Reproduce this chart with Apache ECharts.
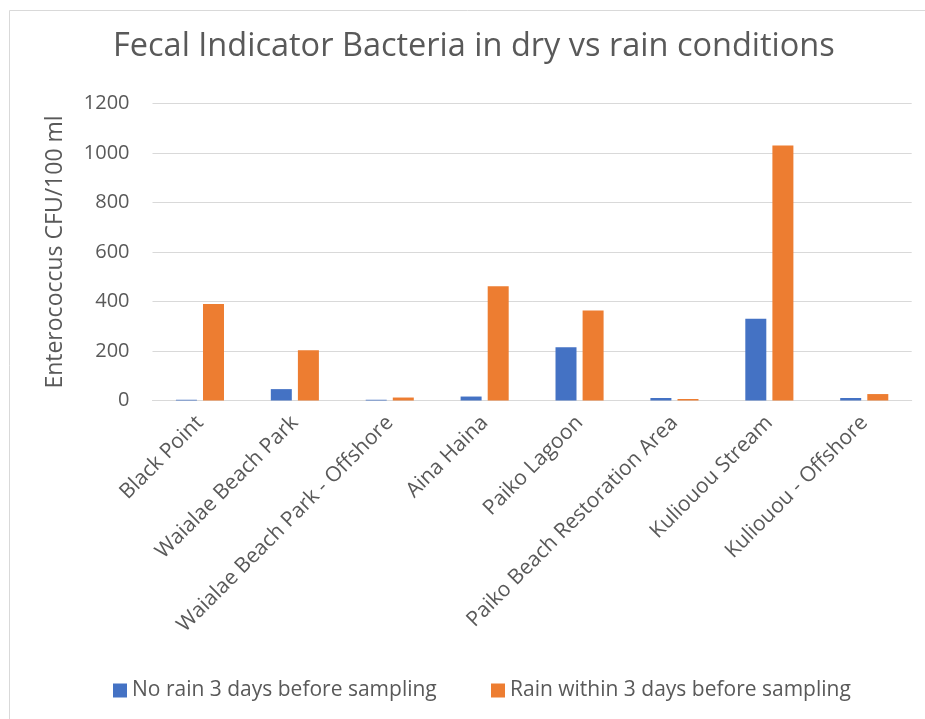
<!DOCTYPE html>
<html><head><meta charset="utf-8">
<script src="https://cdn.jsdelivr.net/npm/echarts@6/dist/echarts.min.js"></script>
<style>html,body{margin:0;padding:0;background:#fff;}#c{width:925px;height:719px;}</style>
</head><body><div id="c"></div>
<script>
const categories = ["Black Point","Waialae Beach Park","Waialae Beach Park - Offshore","Aina Haina","Paiko Lagoon","Paiko Beach Restoration Area","Kuliouou Stream","Kuliouou - Offshore"];
const noRain = [3, 46, 3, 16, 215, 10, 330, 10];
const rain = [390, 203, 12, 462, 364, 6, 1030, 26];
const yTicks = [0, 200, 400, 600, 800, 1000, 1200];
const seriesNames = ["No rain 3 days before sampling", "Rain within 3 days before sampling"];
const titleText = "Fecal Indicator Bacteria in dry vs rain conditions";
const yName = "Enterococcus CFU/100 ml";

const font = "'Open Sans', sans-serif";
const txt = "#595959";
const legendBase = {bottom: 18, itemWidth: 14, itemHeight: 14, icon: 'rect', padding: 0,
  textStyle: {fontFamily: font, fontSize: 21, color: txt}};
const chart = echarts.init(document.getElementById('c'), null, {renderer: 'canvas'});
chart.setOption({
  animation: false,
  graphic: [{type: 'rect', left: 7, top: 8, shape: {width: 940, height: 740}, style: {fill: 'none', stroke: '#d9d9d9', lineWidth: 1}}],
  title: {text: titleText, left: 113, top: 30, padding: 0, textStyle: {fontFamily: font, fontSize: 32.5, fontWeight: 'normal', color: txt}},
  legend: [
    Object.assign({left: 113, data: [seriesNames[0]]}, legendBase),
    Object.assign({left: 491, data: [seriesNames[1]]}, legendBase)
  ],
  grid: {left: 152.5, right: 13.3, top: 103.5, bottom: 318.5, containLabel: false},
  xAxis: {type: 'category', data: categories,
    axisLine: {lineStyle: {color: '#d9d9d9', width: 1}}, axisTick: {show: false},
    axisLabel: {rotate: 45, interval: 0, margin: 19, fontFamily: font, fontSize: 21, color: txt}},
  yAxis: {type: 'value', min: yTicks[0], max: yTicks[yTicks.length-1], interval: 200,
    name: yName, nameLocation: 'middle', nameGap: 86, nameRotate: 90,
    nameTextStyle: {fontFamily: font, fontSize: 23, color: txt},
    axisLine: {show: false}, axisTick: {show: false},
    axisLabel: {margin: 23, fontFamily: font, fontSize: 20, color: txt, formatter: v => String(v)},
    splitLine: {lineStyle: {color: '#d9d9d9', width: 1}}},
  series: [
    {name: seriesNames[0], type: 'bar', data: noRain, barWidth: 21, barGap: '29%', itemStyle: {color: '#4472C4'}},
    {name: seriesNames[1], type: 'bar', data: rain, barWidth: 21, itemStyle: {color: '#ED7D31'}}
  ]
});
</script></body></html>
